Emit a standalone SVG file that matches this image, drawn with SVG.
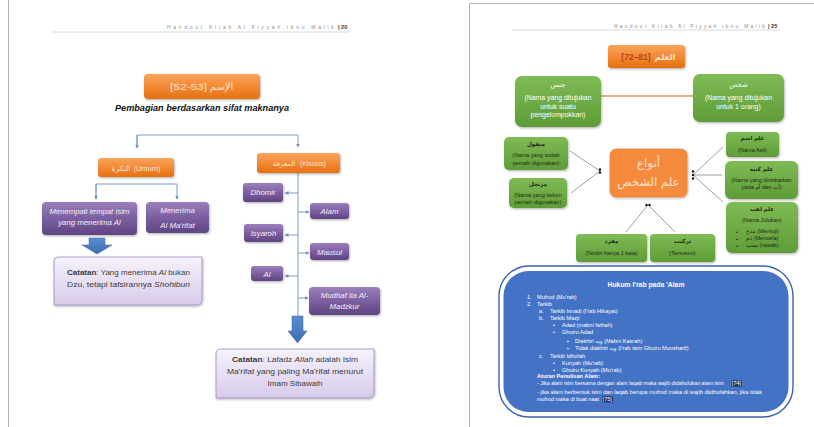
<svg xmlns="http://www.w3.org/2000/svg" width="814" height="427" viewBox="0 0 814 427">
<defs>
<linearGradient id="gOr" x1="0" y1="0" x2="0" y2="1"><stop offset="0" stop-color="#f9a45c"/><stop offset="0.5" stop-color="#f28a35"/><stop offset="1" stop-color="#e3700f"/></linearGradient>
<linearGradient id="gPu" x1="0" y1="0" x2="0" y2="1"><stop offset="0" stop-color="#9a80bb"/><stop offset="0.5" stop-color="#7c5fa0"/><stop offset="1" stop-color="#5e4582"/></linearGradient>
<linearGradient id="gLav" x1="0" y1="0" x2="0" y2="1"><stop offset="0" stop-color="#f6f2fb"/><stop offset="1" stop-color="#d8cbea"/></linearGradient>
<linearGradient id="gBl" x1="0" y1="0" x2="0" y2="1"><stop offset="0" stop-color="#5b8fd0"/><stop offset="1" stop-color="#3c6bb0"/></linearGradient>
<linearGradient id="gGr" x1="0" y1="0" x2="0" y2="1"><stop offset="0" stop-color="#7fbb55"/><stop offset="1" stop-color="#5f9c38"/></linearGradient>
<filter id="sh" x="-10%" y="-10%" width="130%" height="140%"><feDropShadow dx="0.8" dy="1.2" stdDeviation="0.9" flood-color="#000" flood-opacity="0.3"/></filter>
<marker id="ar" markerWidth="4" markerHeight="4" refX="3.5" refY="2" orient="auto" markerUnits="userSpaceOnUse"><path d="M0,0 L4,2 L0,4 z" fill="#6f93b8"/></marker>
</defs>
<style>
text{font-family:"Liberation Sans","DejaVu Sans",sans-serif}
.hd{font-size:5px;fill:#8c8c8c;letter-spacing:1.2px}
.hn{font-size:5.5px;fill:#333;font-weight:bold}
.or{fill:url(#gOr);filter:url(#sh)}
.pu{fill:url(#gPu);filter:url(#sh)}
.lav{fill:url(#gLav);stroke:#9a8cbc;stroke-width:0.8;filter:url(#sh)}
.gr{fill:url(#gGr);filter:url(#sh)}
.tw{fill:#f4eefa;font-size:7.8px;text-anchor:middle;font-style:italic}
.to{fill:#fde3cf;font-size:8px;text-anchor:middle}
.tn{fill:#3a3a3a;font-size:7.8px;text-anchor:middle}
.tg{fill:#ffffff;font-size:6.9px;text-anchor:middle}
.ts{fill:#1f2a14;font-size:5.6px;text-anchor:middle}
.tsl{fill:#1f2a14;font-size:5.6px;text-anchor:start}
.tb{fill:#ffffff;font-size:5.6px}
.cn{stroke:#7a9cc0;stroke-width:1;fill:none}
.cg{stroke:#888;stroke-width:0.8;fill:none}
</style>

<!-- page frames -->
<g id="pages">
<line x1="8.5" y1="0" x2="8.5" y2="427" stroke="#b0b0b0" stroke-width="1"/>
<path d="M469.5,427 V3.5 H814" fill="none" stroke="#b0b0b0" stroke-width="1"/>
<line x1="52" y1="32" x2="350" y2="32" stroke="#d0d0d0" stroke-width="0.8"/>
<line x1="512" y1="30" x2="780" y2="30" stroke="#d0d0d0" stroke-width="0.8"/>
<text class="hd" x="167" y="29" textLength="168" lengthAdjust="spacing">Handout Kitab Al Fiyyah ibnu Malik</text>
<text class="hn" x="338" y="29">| 20</text>
<text class="hd" x="614" y="28" textLength="152" lengthAdjust="spacing">Handout Kitab Al Fiyyah ibnu Malik</text>
<text class="hn" x="768" y="28">| 25</text>
</g>

<!-- LEFT PAGE connectors -->
<g id="connectors-left">
<path class="cn" d="M137,147 V135 H298 V147" marker-end="url(#ar)"/>
<line class="cn" x1="137" y1="135" x2="137" y2="148" marker-end="url(#ar)"/>
<path class="cn" d="M96,199 V184 H177 V199" marker-end="url(#ar)"/>
<line class="cn" x1="96" y1="184" x2="96" y2="199" marker-end="url(#ar)"/>
<line class="cn" x1="298" y1="173" x2="298" y2="318"/>
<line class="cn" x1="298" y1="193" x2="285" y2="193" marker-end="url(#ar)"/>
<line class="cn" x1="298" y1="212" x2="309" y2="212" marker-end="url(#ar)"/>
<line class="cn" x1="298" y1="235" x2="285" y2="235" marker-end="url(#ar)"/>
<line class="cn" x1="298" y1="253" x2="309" y2="253" marker-end="url(#ar)"/>
<line class="cn" x1="298" y1="276" x2="285" y2="276" marker-end="url(#ar)"/>
<line class="cn" x1="298" y1="298" x2="308" y2="298" marker-end="url(#ar)"/>
<path d="M89,238 H105 V245 H112 L97,254 L82,245 H89 Z" fill="url(#gBl)" stroke="#3a66a8" stroke-width="0.5"/>
<path d="M292,316 H303 V331 H307 L297.5,343 L288,331 H292 Z" fill="url(#gBl)" stroke="#3a66a8" stroke-width="0.5"/>
</g>

<!-- LEFT PAGE nodes -->
<g id="n-ism"><rect class="or" x="144" y="74" width="116" height="25" rx="4"/>
<text class="to" x="188.5" y="90" style="font-size:9.5px" textLength="37" lengthAdjust="spacingAndGlyphs">[52-53]</text>
<text class="to" x="221.5" y="90" style="font-size:10px">الإسم</text></g>
<g id="n-sub"><text x="202" y="111" font-size="9.5" font-weight="bold" font-style="italic" text-anchor="middle" fill="#111" textLength="174" lengthAdjust="spacingAndGlyphs">Pembagian berdasarkan sifat maknanya</text></g>
<g id="n-nakirah"><rect class="or" x="98" y="158" width="76" height="19" rx="3"/>
<text class="to" x="121" y="170.5" style="font-size:7.5px">النكرة</text>
<text class="to" x="147" y="170.5" style="font-size:7.5px">(Umum)</text></g>
<g id="n-marifah"><rect class="or" x="257" y="153" width="83" height="20" rx="3"/>
<text class="to" x="284" y="166" style="font-size:7px">المعرفة</text>
<text class="to" x="313" y="166" style="font-size:6.5px">(Khusus)</text></g>
<g id="n-menempati"><rect class="pu" x="42" y="202" width="95" height="33" rx="4"/>
<text class="tw" x="89.5" y="214" textLength="80" lengthAdjust="spacingAndGlyphs">Menempati tempat Isim</text><text class="tw" x="89.5" y="225">yang menerima Al</text></g>
<g id="n-menerima"><rect class="pu" x="146" y="202" width="63" height="31" rx="4"/>
<text class="tw" x="177.5" y="213">Menerima</text><text class="tw" x="177.5" y="228">Al Ma'rifat</text></g>
<g id="n-catatan1"><path class="lav" d="M58,257 H202 V299 Q202,305 196,305 H54 V261 Q54,257 58,257 Z"/>
<text class="tn" x="128.5" y="275" textLength="123" lengthAdjust="spacingAndGlyphs"><tspan font-weight="bold">Catatan</tspan>: Yang menerima <tspan font-style="italic">Al</tspan> bukan</text>
<text class="tn" x="128.5" y="287" textLength="123" lengthAdjust="spacingAndGlyphs">Dzu, tetapi tafsirannya <tspan font-style="italic">Shohibun</tspan></text></g>
<g id="n-dhomir"><rect class="pu" x="243" y="183" width="40" height="19" rx="3"/><text class="tw" x="263" y="195">Dhomir</text></g>
<g id="n-alam"><rect class="pu" x="310" y="203" width="39" height="16" rx="3"/><text class="tw" x="329.5" y="213.5">Alam</text></g>
<g id="n-isyaroh"><rect class="pu" x="244" y="224" width="39" height="18" rx="3"/><text class="tw" x="263.5" y="235.5">Isyaroh</text></g>
<g id="n-mausul"><rect class="pu" x="310" y="243" width="39" height="17" rx="3"/><text class="tw" x="329.5" y="254.5">Mausul</text></g>
<g id="n-al"><rect class="pu" x="251" y="266" width="32" height="15" rx="3"/><text class="tw" x="267" y="276.5">Al</text></g>
<g id="n-mudhaf"><rect class="pu" x="309" y="287" width="71" height="28" rx="4"/>
<text class="tw" x="344.5" y="298">Mudhaf ila  Al-</text><text class="tw" x="344.5" y="309">Madzkur</text></g>
<g id="n-catatan2"><path class="lav" d="M221,349 H374 V392 Q374,398 368,398 H216 V354 Q216,349 221,349 Z"/>
<text class="tn" x="295" y="362" textLength="126" lengthAdjust="spacingAndGlyphs"><tspan font-weight="bold">Catatan</tspan>: Lafadz <tspan font-style="italic">Allah</tspan> adalah Isim</text>
<text class="tn" x="295" y="374" textLength="136" lengthAdjust="spacingAndGlyphs">Ma'rifat yang paling Ma'rifat menurut</text>
<text class="tn" x="295" y="386" textLength="55" lengthAdjust="spacingAndGlyphs">Imam Sibawaih</text></g>

<!-- RIGHT PAGE connectors -->
<g id="connectors-right">
<line x1="601" y1="96" x2="693" y2="96" stroke="#f0905a" stroke-width="1.6"/>
<line class="cg" x1="570" y1="151" x2="600" y2="171"/>
<line class="cg" x1="571" y1="193" x2="600" y2="171"/>
<line class="cg" x1="693" y1="175" x2="723" y2="147"/>
<line class="cg" x1="693" y1="175" x2="722" y2="175"/>
<line class="cg" x1="693" y1="175" x2="723" y2="202"/>
<line class="cg" x1="648" y1="205" x2="626" y2="232"/>
<line class="cg" x1="648" y1="205" x2="675" y2="232"/>
<g fill="#111">
<circle cx="600" cy="169.5" r="1.2"/><circle cx="600" cy="172.5" r="1.2"/>
<circle cx="693" cy="171.5" r="1.2"/><circle cx="693" cy="175" r="1.2"/><circle cx="693" cy="178.5" r="1.2"/>
<circle cx="646.5" cy="205" r="1.2"/><circle cx="649.5" cy="205" r="1.2"/>
</g>
</g>

<!-- RIGHT PAGE nodes -->
<g id="n-alalam"><rect class="or" x="608" y="45" width="77" height="23" rx="3"/>
<text x="636" y="60" text-anchor="middle" fill="#c0401e" style="font-size:8.5px;font-weight:bold">[72–81]</text>
<text x="665" y="60" text-anchor="middle" fill="#fde3cf" style="font-size:8.5px;font-weight:bold">العلم</text></g>
<g id="n-jins"><rect class="gr" x="515" y="76" width="86" height="51" rx="7"/>
<text class="tg" x="558" y="87">جنس</text>
<text class="tg" x="558" y="100">(Nama yang ditujukan</text>
<text class="tg" x="558" y="108.5">untuk suatu</text>
<text class="tg" x="558" y="117">pengelompokkan)</text></g>
<g id="n-syakhsh"><rect class="gr" x="693" y="74" width="91" height="48" rx="7"/>
<text class="tg" x="738.5" y="87">شخص</text>
<text class="tg" x="738.5" y="100">(Nama yang ditujukan</text>
<text class="tg" x="738.5" y="108.5">untuk 1 orang)</text></g>
<g id="n-anwa"><rect x="610" y="149" width="77" height="48" rx="6" fill="#f58a3c" stroke="#e07a2a" stroke-width="0.6" filter="url(#sh)"/>
<text x="648.5" y="167" text-anchor="middle" fill="#fde3cf" style="font-size:12px">أنواع</text>
<text x="648.5" y="186" text-anchor="middle" fill="#fde3cf" style="font-size:12px">علم الشخص</text></g>
<g id="n-manqul"><rect class="gr" x="504" y="137" width="64" height="33" rx="5"/>
<text class="ts" x="536" y="146" font-weight="bold">منقول</text>
<text class="ts" x="536" y="157">(Nama yang sudah</text>
<text class="ts" x="536" y="164.5">pernah digunakan)</text></g>
<g id="n-murtajal"><rect class="gr" x="509" y="178" width="58" height="30" rx="5"/>
<text class="ts" x="538" y="185.5" font-weight="bold">مرتجل</text>
<text class="ts" x="538" y="196.5">(Nama yang belum</text>
<text class="ts" x="538" y="204">pernah digunakan)</text></g>
<g id="n-alamism"><rect class="gr" x="726" y="132" width="53" height="25" rx="4"/>
<text class="ts" x="752.5" y="140" font-weight="bold">علم اسم</text>
<text class="ts" x="752.5" y="151.5">(Nama Asli)</text></g>
<g id="n-kunyah"><rect class="gr" x="725" y="161" width="73" height="38" rx="6"/>
<text class="ts" x="761.5" y="170.5" font-weight="bold">علم كنية</text>
<text class="ts" x="761.5" y="181.5">(Nama yang dinisbatkan</text>
<text class="ts" x="761.5" y="189">pada أم dan أب)</text></g>
<g id="n-laqab"><rect class="gr" x="726" y="202" width="72" height="51" rx="6"/>
<text class="ts" x="762" y="211" font-weight="bold">علم لقب</text>
<text class="ts" x="762" y="221.5">(Nama Julukan)</text>
<text class="tsl" x="736" y="233.5">•</text><text class="tsl" x="736" y="240.5">•</text><text class="tsl" x="736" y="247.5">•</text>
<text class="tsl" x="746" y="233">مدح  (Memuji)</text>
<text class="tsl" x="746" y="240">ذم  (Mencela)</text>
<text class="tsl" x="746" y="247">نسب (nasab)</text></g>
<g id="n-mufrad"><rect class="gr" x="576" y="234" width="71" height="28" rx="4"/>
<text class="ts" x="611.5" y="242.5" font-weight="bold">مفرد</text>
<text class="ts" x="611.5" y="254.5">(Terdiri hanya 1 kata)</text></g>
<g id="n-tarkib"><rect class="gr" x="650" y="234" width="65" height="28" rx="4"/>
<text class="ts" x="682.5" y="242.5" font-weight="bold">تركيب</text>
<text class="ts" x="682.5" y="254.5">(Tersusun)</text></g>

<g id="n-hukum">
<rect x="499" y="266" width="294" height="151" rx="30" fill="#ffffff" stroke="#3d62ad" stroke-width="1.4"/>
<rect x="503.5" y="271" width="285" height="141" rx="25" fill="#4472c4"/>
<text x="646" y="287" text-anchor="middle" fill="#fff" style="font-size:6.8px;font-weight:bold">Hukum I'rab pada 'Alam</text>
<text class="tb" x="527" y="299">1.</text><text class="tb" x="537" y="299">Mufrod (Mu'rab)</text>
<text class="tb" x="527" y="306">2.</text><text class="tb" x="537" y="306">Tarkib</text>
<text class="tb" x="539" y="313">a.</text><text class="tb" x="550" y="313">Tarkib Isnadi (I'rab Hikayat)</text>
<text class="tb" x="539" y="320">b.</text><text class="tb" x="550" y="320">Tarkib Mazji</text>
<text class="tb" x="553" y="327">•</text><text class="tb" x="562" y="327">Adad (mabni fathah)</text>
<text class="tb" x="553" y="334">•</text><text class="tb" x="562" y="334">Ghoiru Adad</text>
<text class="tb" x="566" y="342.5" style="font-size:4.5px">➢</text><text class="tb" x="575" y="342.5">Diakhiri ويه (Mabni Kasrah)</text>
<text class="tb" x="566" y="350" style="font-size:4.5px">➢</text><text class="tb" x="575" y="350">Tidak diakhiri ويه (I'rab isim Ghoiru Munsharif)</text>
<text class="tb" x="539" y="357.5">c.</text><text class="tb" x="550" y="357.5">Tarkib Idhofah</text>
<text class="tb" x="553" y="364.5">•</text><text class="tb" x="562" y="364.5">Kunyah (Mu'rab)</text>
<text class="tb" x="553" y="371.5">•</text><text class="tb" x="562" y="371.5">Ghoiru Kunyah (Mu'rab)</text>
<text class="tb" x="537" y="378" font-weight="bold">Aturan Penulisan Alam:</text>
<rect x="731" y="380.5" width="11" height="6.2" fill="#1f3864"/>
<text class="tb" x="537" y="385.3" style="font-size:5.3px">- Jika alam isim bersama dengan alam laqab maka wajib didahulukan alam isim</text>
<text class="tb" x="731.6" y="385.3">[74]</text>
<text class="tb" x="537" y="394" textLength="225" lengthAdjust="spacingAndGlyphs">-  jika alam berbentuk isim dan laqab berupa mufrod maka di wajib diidhofahkan, jika tidak</text>
<rect x="602" y="396.2" width="11" height="6.2" fill="#1f3864"/>
<text class="tb" x="537" y="401.2" textLength="62" lengthAdjust="spacingAndGlyphs">mufrod maka di buat naat</text>
<text class="tb" x="602.6" y="401.2">[75]</text>
</g>
</svg>
